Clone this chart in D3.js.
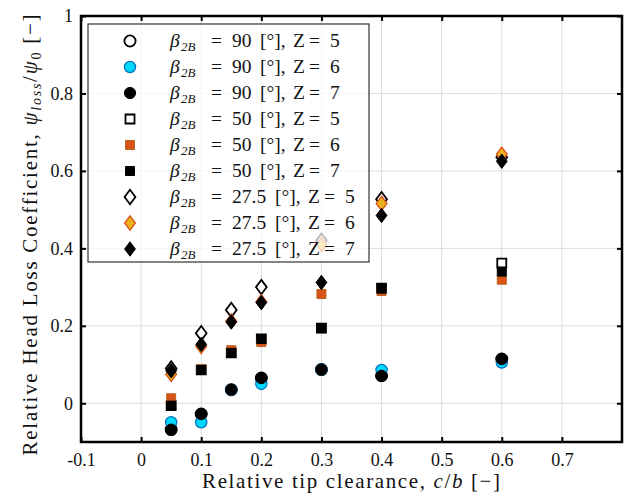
<!DOCTYPE html>
<html><head><meta charset="utf-8">
<script src="https://cdn.jsdelivr.net/npm/d3@7"></script>
<style>body{margin:0;background:#fff}svg{display:block}text{font-family:"Liberation Serif","DejaVu Serif",serif;fill:#111}</style>
</head><body><svg id="c" width="629" height="503"></svg>
<script>
const clearance = [0.05, 0.1, 0.15, 0.2, 0.3, 0.4, 0.6];
const b90z5 = [-0.068, -0.028, 0.035, 0.065, 0.087, 0.071, 0.114];
const b90z6 = [-0.049, -0.049, 0.035, 0.050, 0.087, 0.086, 0.105];
const b90z7 = [-0.068, -0.028, 0.035, 0.065, 0.087, 0.071, 0.114];
const b50z5 = [-0.006, 0.086, 0.130, 0.166, 0.194, 0.297, 0.362];
const b50z6 = [0.013, 0.088, 0.137, 0.158, 0.282, 0.290, 0.319];
const b50z7 = [-0.006, 0.086, 0.130, 0.166, 0.194, 0.296, 0.340];
const b27z5 = [0.090, 0.181, 0.241, 0.300, 0.420, 0.527, 0.635];
const b27z6 = [0.075, 0.147, 0.212, 0.262, 0.410, 0.516, 0.643];
const b27z7 = [0.084, 0.152, 0.210, 0.260, 0.312, 0.485, 0.625];
const angles = ["90", "90", "90", "50", "50", "50", "27.5", "27.5", "27.5"];
const blades = ["5", "6", "7", "5", "6", "7", "5", "6", "7"];
const xTicks = [-0.1, 0, 0.1, 0.2, 0.3, 0.4, 0.5, 0.6, 0.7];
const xTickLabels = ["-0.1", "0", "0.1", "0.2", "0.3", "0.4", "0.5", "0.6", "0.7"];
const yTicks = [0, 0.2, 0.4, 0.6, 0.8, 1];
const yTickLabels = ["0", "0.2", "0.4", "0.6", "0.8", "1"];

const series = [
  {v: b90z5, shape: "circle", fill: "#fff", stroke: "#000", sw: 1.8},
  {v: b90z6, shape: "circle", fill: "#00d8ff", stroke: "#0072bd", sw: 1.3},
  {v: b90z7, shape: "circle", fill: "#000", stroke: "#000", sw: 1},
  {v: b50z5, shape: "square", fill: "#fff", stroke: "#000", sw: 1.8},
  {v: b50z6, shape: "square", fill: "#d95319", stroke: "#b5651d", sw: 1},
  {v: b50z7, shape: "square", fill: "#000", stroke: "#000", sw: 1},
  {v: b27z5, shape: "diamond", fill: "#fff", stroke: "#000", sw: 1.8},
  {v: b27z6, shape: "diamond", fill: "#edb120", stroke: "#d95319", sw: 1.3},
  {v: b27z7, shape: "diamond", fill: "#000", stroke: "#000", sw: 1}
];

const svg = d3.select("#c");
const L = 81, R = 622, T = 16, B = 442;
const x = d3.scaleLinear().domain([-0.1, 0.8]).range([L, R]);
const y = d3.scaleLinear().domain([-0.1, 1]).range([B, T]);

function markerPath(shape) {
  if (shape === "circle") return d3.symbol(d3.symbolCircle, Math.PI * 5.6 * 5.6)();
  if (shape === "square") return d3.symbol(d3.symbolSquare, 9 * 9)();
  const p = d3.path(); p.moveTo(0, -7.2); p.lineTo(5.4, 0); p.lineTo(0, 7.2); p.lineTo(-5.4, 0); p.closePath();
  return p.toString();
}

// grid
const grid = svg.append("g");
grid.selectAll(".gx").data(xTicks.filter(d => d > -0.1)).join("line")
  .attr("x1", d => x(d)).attr("x2", d => x(d)).attr("y1", T).attr("y2", B)
  .attr("stroke", "#dcdcdc").attr("stroke-width", 1);
grid.selectAll(".gy").data(yTicks.filter(d => d < 1)).join("line")
  .attr("y1", d => y(d)).attr("y2", d => y(d)).attr("x1", L).attr("x2", R)
  .attr("stroke", "#dcdcdc").attr("stroke-width", 1);

// data
series.forEach(s => {
  svg.append("g").selectAll("path").data(s.v).join("path")
    .attr("d", markerPath(s.shape))
    .attr("transform", (d, i) => `translate(${x(clearance[i])},${y(d)})`)
    .attr("fill", s.fill).attr("stroke", s.stroke).attr("stroke-width", s.sw);
});

// axes (inward ticks)
const ax = d3.axisBottom(x).tickValues(xTicks).tickSize(-5).tickPadding(11).tickFormat((d, i) => xTickLabels[i]);
const gx = svg.append("g").attr("transform", `translate(0,${B})`).call(ax);
const ay = d3.axisLeft(y).tickValues(yTicks).tickSize(-5).tickPadding(8).tickFormat((d, i) => yTickLabels[i]);
const gy = svg.append("g").attr("transform", `translate(${L},0)`).call(ay);
svg.append("g").attr("transform", `translate(0,${T})`).call(d3.axisTop(x).tickValues(xTicks).tickSize(-5).tickFormat(""));
svg.append("g").attr("transform", `translate(${R},0)`).call(d3.axisRight(y).tickValues(yTicks).tickSize(-5).tickFormat(""));
svg.selectAll(".domain").remove();
svg.selectAll(".tick line").attr("stroke", "#000").attr("stroke-width", 2);
[gx, gy].forEach(g => g.selectAll("text").attr("font-size", 18).attr("fill", "#111")
  .attr("font-family", "'Liberation Serif','DejaVu Serif',serif"));
gx.selectAll("text").attr("dy", "0.71em");
svg.append("rect").attr("x", L).attr("y", T).attr("width", R - L).attr("height", B - T)
  .attr("fill", "none").attr("stroke", "#000").attr("stroke-width", 2.5);

// labels
svg.append("text").attr("x", (L + R) / 2 - 0.5).attr("y", 488).attr("text-anchor", "middle").attr("font-size", 21)
  .attr("textLength", 298).attr("lengthAdjust", "spacing")
  .html('Relative tip clearance, <tspan font-style="italic">c</tspan>/<tspan font-style="italic">b</tspan> [−]');
svg.append("text").attr("transform", `translate(37,235) rotate(-90)`).attr("text-anchor", "middle").attr("font-size", 21)
  .attr("textLength", 441).attr("lengthAdjust", "spacing")
  .html('Relative Head Loss Coefficient, <tspan font-style="italic">ψ</tspan><tspan font-style="italic" font-size="14" dy="4">loss</tspan><tspan dy="-4">/</tspan><tspan font-style="italic">ψ</tspan><tspan font-size="14" dy="4">0</tspan><tspan dy="-4"> [−]</tspan>');

// legend
const lg = svg.append("g");
lg.append("rect").attr("x", 88).attr("y", 24).attr("width", 281).attr("height", 238)
  .attr("fill", "#fff").attr("fill-opacity", 0.72).attr("stroke", "#333").attr("stroke-width", 1.2);
series.forEach((s, i) => {
  const cy = 41 + i * 26;
  const wide = angles[i].length > 2 ? 15 : 0;
  lg.append("path").attr("d", markerPath(s.shape)).attr("transform", `translate(130,${cy})`)
    .attr("fill", s.fill).attr("stroke", s.stroke).attr("stroke-width", s.sw);
  const t = lg.append("text").attr("y", cy + 6).attr("font-size", 19.5);
  t.append("tspan").attr("x", 170).attr("font-style", "italic").text("β");
  t.append("tspan").attr("x", 181).attr("dy", 4).attr("font-size", 13).attr("font-style", "italic").text("2B");
  t.append("tspan").attr("x", 211).attr("dy", -4).text("=");
  t.append("tspan").attr("x", 232).text(angles[i]);
  t.append("tspan").attr("x", 260 + wide).text("[°],");
  t.append("tspan").attr("x", 293 + wide).text("Z");
  t.append("tspan").attr("x", 309 + wide).text("=");
  t.append("tspan").attr("x", 330 + wide).text(blades[i]);
});
</script></body></html>
